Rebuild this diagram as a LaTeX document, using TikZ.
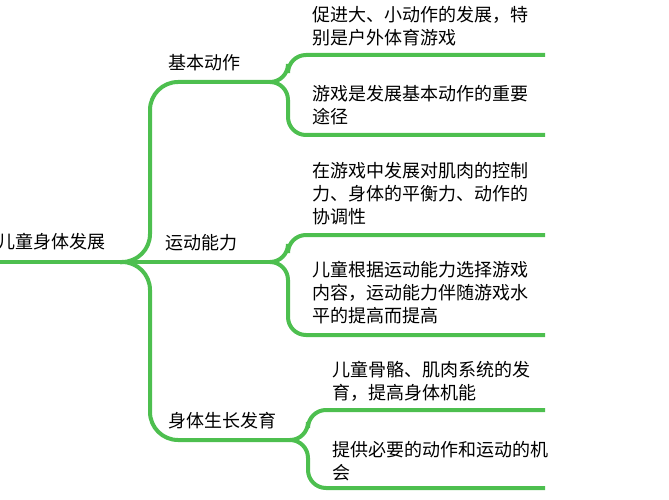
\documentclass[tikz,border=0pt]{standalone}
\usepackage{fontspec}
\setmainfont{Noto Sans CJK SC}
\definecolor{gline}{HTML}{4DBF4F}
\tikzset{br/.style={draw=gline,line width=4pt,rounded corners=28pt},
lf/.style={draw=gline,line width=4pt,rounded corners=18pt},
t/.style={anchor=north west,inner sep=0pt,font=\fontsize{18}{23}\selectfont,align=left}}
\begin{document}
\begin{tikzpicture}[x=1pt,y=-1pt]
\useasboundingbox (0,0) rectangle (669,500);
\node[t,anchor=west] (root) at (-3,242) {儿童身体发展};
\coordinate (r) at (120,262);
\draw[br] (0,262) -- (r);
\node[t,anchor=west] (b1) at (168,63) {基本动作};
\node[t,anchor=west] (b2) at (165,243) {运动能力};
\node[t,anchor=west] (b3) at (168,421) {身体生长发育};
\coordinate (e1) at (270,82);\coordinate (e2) at (270,262);\coordinate (e3) at (290,440);
\draw[br] (r) -- (150,262) -- (150,82) -- (e1);
\draw[br] (r) -- (e2);
\draw[br] (r) -- (150,262) -- (150,440) -- (e3);
\draw[lf] (e1) -- (288,82) -- (288,55) -- (545,55);
\draw[lf] (e1) -- (288,82) -- (288,135) -- (545,135);
\draw[lf] (e2) -- (288,262) -- (288,235) -- (545,235);
\draw[lf] (e2) -- (288,262) -- (288,335) -- (545,335);
\draw[lf] (e3) -- (308,440) -- (308,410) -- (545,410);
\draw[lf] (e3) -- (308,440) -- (308,488) -- (545,488);
\node[t] (l1) at (312,6) {促进大、小动作的发展，特\\别是户外体育游戏};
\node[t] (l2) at (312,85) {游戏是发展基本动作的重要\\途径};
\node[t] (l3) at (312,162) {在游戏中发展对肌肉的控制\\力、身体的平衡力、动作的\\协调性};
\node[t] (l4) at (312,261) {儿童根据运动能力选择游戏\\内容，运动能力伴随游戏水\\平的提高而提高};
\node[t] (l5) at (332,361) {儿童骨骼、肌肉系统的发\\育，提高身体机能};
\node[t] (l6) at (332,441) {提供必要的动作和运动的机\\会};
\end{tikzpicture}
\end{document}
